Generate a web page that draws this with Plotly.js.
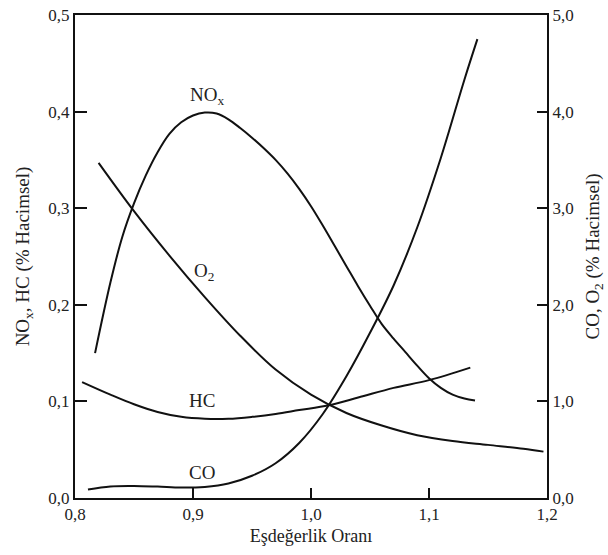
<!DOCTYPE html>
<html>
<head>
<meta charset="utf-8">
<script src="https://cdn.plot.ly/plotly-3.0.1.min.js"></script>
<style>html,body{margin:0;padding:0;background:#fff;}#chart{width:608px;height:555px;}</style>
</head>
<body>
<div id="chart"></div>
<script>
// NOx (left axis, % volume)
const noxX = [0.817, 0.83, 0.84, 0.85, 0.86, 0.87, 0.88, 0.89, 0.90, 0.91, 0.92, 0.93, 0.94, 0.95, 0.96, 0.97, 0.98, 0.99, 1.00, 1.01, 1.02, 1.03, 1.04, 1.05, 1.06, 1.07, 1.08, 1.09, 1.10, 1.11, 1.12, 1.13, 1.139];
const noxY = [0.150, 0.223, 0.270, 0.305, 0.334, 0.358, 0.377, 0.389, 0.396, 0.399, 0.398, 0.392, 0.383, 0.373, 0.362, 0.350, 0.336, 0.320, 0.302, 0.282, 0.261, 0.240, 0.219, 0.199, 0.180, 0.165, 0.151, 0.137, 0.124, 0.114, 0.107, 0.103, 0.101];
// HC (left axis)
const hcX = [0.806, 0.83, 0.85, 0.87, 0.89, 0.91, 0.93, 0.95, 0.97, 0.99, 1.015, 1.04, 1.07, 1.10, 1.135];
const hcY = [0.120, 0.107, 0.097, 0.089, 0.084, 0.082, 0.082, 0.084, 0.087, 0.091, 0.096, 0.104, 0.114, 0.122, 0.135];
// O2 (right axis)
const o2X = [0.820, 0.85, 0.88, 0.91, 0.94, 0.97, 1.00, 1.03, 1.06, 1.09, 1.12, 1.15, 1.18, 1.197];
const o2Y = [3.47, 2.97, 2.51, 2.08, 1.68, 1.33, 1.07, 0.88, 0.75, 0.65, 0.59, 0.55, 0.51, 0.48];
// CO (right axis)
const coX = [0.811, 0.83, 0.85, 0.87, 0.89, 0.91, 0.93, 0.95, 0.97, 0.99, 1.01, 1.03, 1.05, 1.07, 1.09, 1.11, 1.13, 1.141];
const coY = [0.087, 0.12, 0.125, 0.118, 0.108, 0.115, 0.15, 0.23, 0.36, 0.57, 0.87, 1.26, 1.71, 2.20, 2.80, 3.52, 4.33, 4.75];

const xTicks = [0.8, 0.9, 1.0, 1.1, 1.2];
const yLeftTicks = [0, 0.1, 0.2, 0.3, 0.4, 0.5];
const yRightTicks = [0, 1, 2, 3, 4, 5];

const FONT = 'Liberation Serif, Times New Roman, serif';
const line = {color: '#111', width: 2, shape: 'spline', smoothing: 1};

const traces = [
  {x: noxX, y: noxY, type: 'scatter', mode: 'lines', line: line, name: 'NOx', yaxis: 'y'},
  {x: hcX, y: hcY, type: 'scatter', mode: 'lines', line: line, name: 'HC', yaxis: 'y'},
  {x: o2X, y: o2Y, type: 'scatter', mode: 'lines', line: line, name: 'O2', yaxis: 'y2'},
  {x: coX, y: coY, type: 'scatter', mode: 'lines', line: line, name: 'CO', yaxis: 'y2'}
];

const axisCommon = {
  showgrid: false, zeroline: false, showline: true, linecolor: '#111', linewidth: 2,
  ticks: 'inside', tickcolor: '#111', tickwidth: 2,
  tickfont: {family: FONT, size: 17, color: '#222'}
};

const layout = {
  width: 608, height: 555,
  margin: {l: 75, r: 61, t: 15, b: 57},
  paper_bgcolor: '#fff', plot_bgcolor: '#fff',
  showlegend: false,
  separators: ', ',
  font: {family: FONT, color: '#222'},
  xaxis: Object.assign({}, axisCommon, {
    range: [0.8, 1.2], tickvals: xTicks, tickformat: '.1f', ticklen: 10, mirror: true,
    title: {text: 'Eşdeğerlik Oranı', font: {family: FONT, size: 18, color: '#222'}, standoff: 6}
  }),
  yaxis: Object.assign({}, axisCommon, {
    range: [0, 0.5], tickvals: yLeftTicks, tickformat: '.1f', ticklen: 12,
    title: {text: 'NO<sub>x</sub>, HC (% Hacimsel)', font: {family: FONT, size: 19, color: '#222'}, standoff: 14}
  }),
  yaxis2: Object.assign({}, axisCommon, {
    range: [0, 5], tickvals: yRightTicks, tickformat: '.1f', ticklen: 10,
    overlaying: 'y', side: 'right',
    title: {text: 'CO, O<sub>2</sub> (% Hacimsel)', font: {family: FONT, size: 19, color: '#222'}, standoff: 13}
  }),
  annotations: [
    {text: 'NO<sub>x</sub>', x: 0.912, y: 0.416, xref: 'x', yref: 'y', showarrow: false, font: {family: FONT, size: 19, color: '#222'}},
    {text: 'O<sub>2</sub>', x: 0.909, y: 0.234, xref: 'x', yref: 'y', showarrow: false, font: {family: FONT, size: 19, color: '#222'}},
    {text: 'HC', x: 0.9075, y: 0.101, xref: 'x', yref: 'y', showarrow: false, font: {family: FONT, size: 19, color: '#222'}},
    {text: 'CO', x: 0.9075, y: 0.026, xref: 'x', yref: 'y', showarrow: false, font: {family: FONT, size: 19, color: '#222'}}
  ]
};

Plotly.newPlot('chart', traces, layout, {staticPlot: true, displayModeBar: false});
</script>
</body>
</html>
